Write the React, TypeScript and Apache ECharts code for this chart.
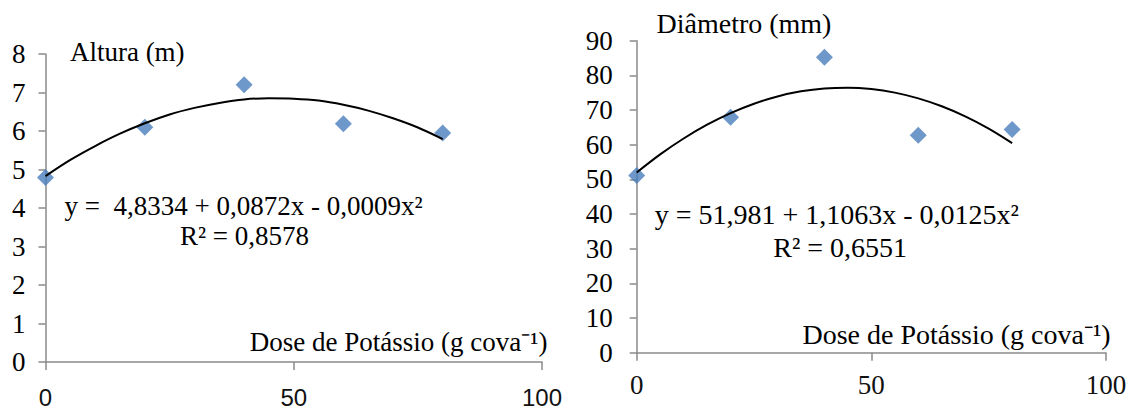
import React, { useEffect, useRef } from "react";
import * as echarts from "echarts";

const xDose = [0, 20, 40, 60, 80];
const alturaValues = [4.79, 6.1, 7.2, 6.19, 5.95];
const diametroValues = [51.1, 67.9, 85.2, 62.7, 64.4];
const trendX = [0, 5, 10, 15, 20, 25, 30, 35, 40, 45, 50, 55, 60, 65, 70, 75, 80];
const alturaTrend = [4.83, 5.25, 5.61, 5.93, 6.2, 6.43, 6.6, 6.73, 6.82, 6.85, 6.84, 6.79, 6.68, 6.53, 6.33, 6.09, 5.79];
const diametroTrend = [51.98, 57.2, 61.79, 65.76, 69.11, 71.83, 73.92, 75.39, 76.23, 76.45, 76.05, 75.02, 73.36, 71.08, 68.17, 64.64, 60.48];
const xTicks = { min: 0, max: 100, interval: 50 };
const alturaTicks = { min: 0, max: 8, interval: 1 };
const diametroTicks = { min: 0, max: 90, interval: 10 };

const SERIF = "'Liberation Serif', 'Times New Roman', serif";
const SANS = "'Liberation Sans', Arial, sans-serif";
const AXIS = "#8a8a8a";
const BLUE = "#4a7ebb";

function txt(text: string, x: number, y: number, size: number, align = "left") {
  return {
    type: "text",
    x,
    y,
    silent: true,
    style: {
      text,
      fill: "#000",
      font: `${size}px ${SERIF}`,
      textAlign: align,
      align,
      textVerticalAlign: "middle",
      verticalAlign: "middle",
    },
  };
}

export default function App() {
  const ref = useRef<HTMLDivElement>(null);
  useEffect(() => {
    if (!ref.current) return;
    const chart = echarts.init(ref.current, undefined, { renderer: "svg" });
    const pair = (xs: number[], ys: number[]) => xs.map((x, i) => [x, ys[i]]);
    const xAxisBase = (gridIndex: number, font: string, size: number, margin: number) => ({
      type: "value",
      gridIndex,
      ...xTicks,
      splitLine: { show: false },
      axisLine: { show: true, onZero: false, lineStyle: { color: AXIS, width: 1.5 } },
      axisTick: { show: true, length: 8, lineStyle: { color: AXIS, width: 1.5 } },
      axisLabel: { fontFamily: font, fontSize: size, color: "#111", margin },
    });
    const yAxisBase = (gridIndex: number, ticks: any, margin: number) => ({
      type: "value",
      gridIndex,
      ...ticks,
      splitLine: { show: false },
      axisLine: { show: true, lineStyle: { color: AXIS, width: 1.5 } },
      axisTick: { show: true, length: 7, lineStyle: { color: AXIS, width: 1.5 } },
      axisLabel: { fontFamily: SERIF, fontSize: 27, color: "#000", margin },
    });
    chart.setOption({
      animation: false,
      backgroundColor: "#fff",
      grid: [
        { left: 45.5, top: 54, width: 496.5, height: 310 },
        { left: 636.7, top: 40.7, width: 469.3, height: 312 },
      ],
      xAxis: [xAxisBase(0, SANS, 24, 23), xAxisBase(1, SERIF, 27, 19)],
      yAxis: [yAxisBase(0, alturaTicks, 20), yAxisBase(1, diametroTicks, 24)],
      series: [
        {
          type: "scatter",
          xAxisIndex: 0,
          yAxisIndex: 0,
          symbol: "diamond",
          symbolSize: 17,
          itemStyle: { color: BLUE },
          data: pair(xDose, alturaValues),
          z: 2,
        },
        {
          type: "line",
          xAxisIndex: 0,
          yAxisIndex: 0,
          smooth: 0.3,
          showSymbol: false,
          lineStyle: { color: "#000", width: 2 },
          data: pair(trendX, alturaTrend),
          z: 3,
        },
        {
          type: "scatter",
          xAxisIndex: 1,
          yAxisIndex: 1,
          symbol: "diamond",
          symbolSize: 17,
          itemStyle: { color: BLUE },
          data: pair(xDose, diametroValues),
          z: 2,
        },
        {
          type: "line",
          xAxisIndex: 1,
          yAxisIndex: 1,
          smooth: 0.3,
          showSymbol: false,
          lineStyle: { color: "#000", width: 2 },
          data: pair(trendX, diametroTrend),
          z: 3,
        },
      ],
      graphic: [
        txt("Altura (m)", 69.9, 51.7, 27),
        txt("y =  4,8334 + 0,0872x - 0,0009x²", 64.5, 206, 27),
        txt("R² = 0,8578", 180, 236, 27),
        txt("Dose de Potássio (g cova⁻¹)", 547.4, 342, 27, "right"),
        txt("Diâmetro (mm)", 656.5, 23.3, 28),
        txt("y = 51,981 + 1,1063x - 0,0125x²", 654.7, 214, 28),
        txt("R² = 0,6551", 773.2, 247, 28),
        txt("Dose de Potássio (g cova⁻¹)", 1110.7, 334, 28, "right"),
      ],
    });
    return () => chart.dispose();
  }, []);
  return (
    <div
      ref={ref}
      style={{ position: "absolute", left: 0, top: 0, width: 1132, height: 409, background: "#fff" }}
    />
  );
}
